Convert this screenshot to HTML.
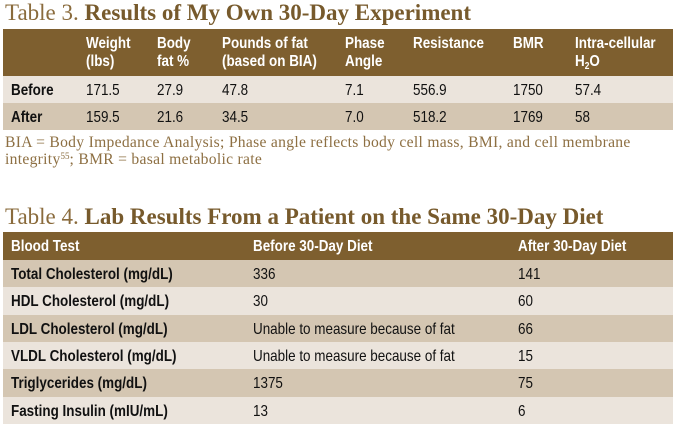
<!DOCTYPE html>
<html>
<head>
<meta charset="utf-8">
<style>
  html,body{margin:0;padding:0;background:#fff;}
  body{width:675px;height:425px;position:relative;overflow:hidden;}
  .title{position:absolute;left:5px;font-family:"Liberation Serif",serif;font-size:23px;line-height:23px;color:#8a6b3c;white-space:nowrap;}
  .title b{color:#775a2c;font-weight:bold;}
  .hdr{position:absolute;left:3px;width:670px;background:#7e5f2f;}
  .row{position:absolute;left:3px;width:670px;}
  .lt{background:#ebe4dc;}
  .dk{background:#d4c6b2;}
  .c{position:absolute;top:0;font-family:"Liberation Sans",sans-serif;font-size:16px;white-space:nowrap;color:#111;}
  .c span{display:inline-block;transform:scaleX(0.84);transform-origin:0 50%;}
  .h{color:#fff;font-weight:bold;}
  .b{font-weight:bold;}
  .foot{position:absolute;left:5px;font-family:"Liberation Serif",serif;font-size:15.6px;letter-spacing:0.3px;line-height:17px;color:#8d6f42;white-space:nowrap;}
  sup{font-size:9px;vertical-align:5px;line-height:0;letter-spacing:0;}
  sub{font-size:10px;vertical-align:-3px;line-height:0;}
</style>
</head>
<body>

<div class="title" style="top:1px;">Table 3. <b>Results of My Own 30-Day Experiment</b></div>

<div class="hdr" style="top:29px;height:47px;">
  <div class="c h" style="left:83px;top:6px;line-height:18px;"><span>Weight<br>(lbs)</span></div>
  <div class="c h" style="left:154px;top:6px;line-height:18px;"><span>Body<br>fat %</span></div>
  <div class="c h" style="left:219px;top:6px;line-height:18px;"><span>Pounds of fat<br>(based on BIA)</span></div>
  <div class="c h" style="left:342px;top:6px;line-height:18px;"><span>Phase<br>Angle</span></div>
  <div class="c h" style="left:410px;top:6px;line-height:18px;"><span>Resistance</span></div>
  <div class="c h" style="left:510px;top:6px;line-height:18px;"><span>BMR</span></div>
  <div class="c h" style="left:572px;top:6px;line-height:18px;"><span>Intra-cellular<br>H<sub>2</sub>O</span></div>
</div>

<div class="row lt" style="top:76px;height:27px;">
  <div class="c b" style="left:8px;line-height:29px;"><span>Before</span></div>
  <div class="c" style="left:83px;line-height:29px;"><span>171.5</span></div>
  <div class="c" style="left:154px;line-height:29px;"><span>27.9</span></div>
  <div class="c" style="left:219px;line-height:29px;"><span>47.8</span></div>
  <div class="c" style="left:342px;line-height:29px;"><span>7.1</span></div>
  <div class="c" style="left:410px;line-height:29px;"><span>556.9</span></div>
  <div class="c" style="left:510px;line-height:29px;"><span>1750</span></div>
  <div class="c" style="left:572px;line-height:29px;"><span>57.4</span></div>
</div>
<div class="row dk" style="top:103px;height:27px;">
  <div class="c b" style="left:8px;line-height:29px;"><span>After</span></div>
  <div class="c" style="left:83px;line-height:29px;"><span>159.5</span></div>
  <div class="c" style="left:154px;line-height:29px;"><span>21.6</span></div>
  <div class="c" style="left:219px;line-height:29px;"><span>34.5</span></div>
  <div class="c" style="left:342px;line-height:29px;"><span>7.0</span></div>
  <div class="c" style="left:410px;line-height:29px;"><span>518.2</span></div>
  <div class="c" style="left:510px;line-height:29px;"><span>1769</span></div>
  <div class="c" style="left:572px;line-height:29px;"><span>58</span></div>
</div>

<div class="foot" style="top:134px;">BIA = Body Impedance Analysis; Phase angle reflects body cell mass, BMI, and cell membrane<br>integrity<sup>55</sup>; BMR = basal metabolic rate</div>

<div class="title" style="top:205px;">Table 4. <b>Lab Results From a Patient on the Same 30-Day Diet</b></div>

<div class="hdr" style="top:232px;height:28px;">
  <div class="c h" style="left:8px;line-height:30px;"><span>Blood Test</span></div>
  <div class="c h" style="left:250px;line-height:30px;"><span>Before 30-Day Diet</span></div>
  <div class="c h" style="left:515px;line-height:30px;"><span>After 30-Day Diet</span></div>
</div>

<div class="row dk" style="top:260px;height:27px;">
  <div class="c b" style="left:8px;line-height:29px;"><span>Total Cholesterol (mg/dL)</span></div>
  <div class="c" style="left:250px;line-height:29px;"><span>336</span></div>
  <div class="c" style="left:515px;line-height:29px;"><span>141</span></div>
</div>
<div class="row lt" style="top:287px;height:28px;">
  <div class="c b" style="left:8px;line-height:29px;"><span>HDL Cholesterol (mg/dL)</span></div>
  <div class="c" style="left:250px;line-height:29px;"><span>30</span></div>
  <div class="c" style="left:515px;line-height:29px;"><span>60</span></div>
</div>
<div class="row dk" style="top:315px;height:27px;">
  <div class="c b" style="left:8px;line-height:29px;"><span>LDL Cholesterol (mg/dL)</span></div>
  <div class="c" style="left:250px;line-height:29px;"><span>Unable to measure because of fat</span></div>
  <div class="c" style="left:515px;line-height:29px;"><span>66</span></div>
</div>
<div class="row lt" style="top:342px;height:27px;">
  <div class="c b" style="left:8px;line-height:29px;"><span>VLDL Cholesterol (mg/dL)</span></div>
  <div class="c" style="left:250px;line-height:29px;"><span>Unable to measure because of fat</span></div>
  <div class="c" style="left:515px;line-height:29px;"><span>15</span></div>
</div>
<div class="row dk" style="top:369px;height:28px;">
  <div class="c b" style="left:8px;line-height:29px;"><span>Triglycerides (mg/dL)</span></div>
  <div class="c" style="left:250px;line-height:29px;"><span>1375</span></div>
  <div class="c" style="left:515px;line-height:29px;"><span>75</span></div>
</div>
<div class="row lt" style="top:397px;height:27px;">
  <div class="c b" style="left:8px;line-height:29px;"><span>Fasting Insulin (mIU/mL)</span></div>
  <div class="c" style="left:250px;line-height:29px;"><span>13</span></div>
  <div class="c" style="left:515px;line-height:29px;"><span>6</span></div>
</div>

</body>
</html>
